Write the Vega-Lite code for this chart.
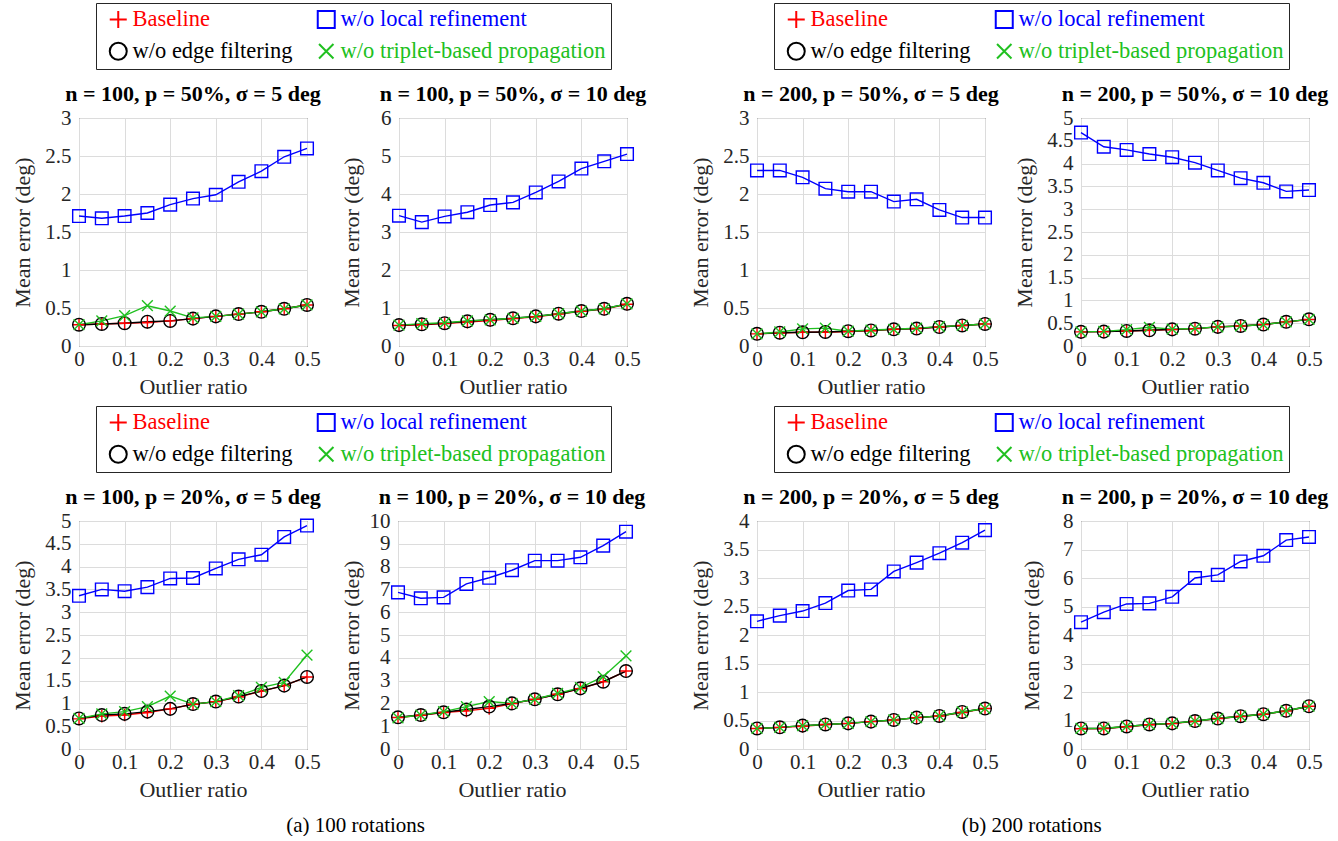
{
"$schema": "https://vega.github.io/schema/vega-lite/v6.json",
"padding": {"left": 10, "top": 2, "right": 0, "bottom": 0},
"background": "#ffffff",
"config": {
  "font": "Liberation Serif",
  "view": {"stroke": "#262626", "strokeWidth": 1},
  "axis": {"labelFont": "Liberation Serif", "labelFontSize": 21, "labelColor": "#262626", "titleFont": "Liberation Serif", "titleFontSize": 22, "titleFontWeight": "normal", "titleColor": "#262626", "grid": true, "gridColor": "#dcdcdc", "domain": false, "ticks": false, "tickSize": 0, "labelOverlap": false, "labelFlush": false},
  "axisX": {"labelPadding": 2, "titlePadding": 7},
  "axisY": {"labelPadding": 8, "titlePadding": 7},
  "title": {"font": "Liberation Serif", "fontSize": 22, "fontWeight": "bold", "color": "#000000", "offset": 1, "baseline": "alphabetic"},
  "legend": {"labelFont": "Liberation Serif", "labelFontSize": 22.5, "symbolSize": 289, "symbolStrokeWidth": 2, "labelOffset": 3, "columnPadding": 16, "rowPadding": 6, "padding": 5, "symbolOffset": 6, "strokeColor": "#262626", "fillColor": "#ffffff", "labelLimit": 400}
},
"datasets": {
"p1": [
{"ratio":0,"method":"Baseline","error":0.28},{"ratio":0.05,"method":"Baseline","error":0.29},{"ratio":0.1,"method":"Baseline","error":0.30},{"ratio":0.15,"method":"Baseline","error":0.31},{"ratio":0.2,"method":"Baseline","error":0.33},{"ratio":0.25,"method":"Baseline","error":0.36},{"ratio":0.3,"method":"Baseline","error":0.39},{"ratio":0.35,"method":"Baseline","error":0.42},{"ratio":0.4,"method":"Baseline","error":0.45},{"ratio":0.45,"method":"Baseline","error":0.49},{"ratio":0.5,"method":"Baseline","error":0.54},
{"ratio":0,"method":"w/o local refinement","error":1.71},{"ratio":0.05,"method":"w/o local refinement","error":1.68},{"ratio":0.1,"method":"w/o local refinement","error":1.71},{"ratio":0.15,"method":"w/o local refinement","error":1.75},{"ratio":0.2,"method":"w/o local refinement","error":1.86},{"ratio":0.25,"method":"w/o local refinement","error":1.94},{"ratio":0.3,"method":"w/o local refinement","error":1.99},{"ratio":0.35,"method":"w/o local refinement","error":2.16},{"ratio":0.4,"method":"w/o local refinement","error":2.30},{"ratio":0.45,"method":"w/o local refinement","error":2.49},{"ratio":0.5,"method":"w/o local refinement","error":2.60},
{"ratio":0,"method":"w/o edge filtering","error":0.28},{"ratio":0.05,"method":"w/o edge filtering","error":0.29},{"ratio":0.1,"method":"w/o edge filtering","error":0.30},{"ratio":0.15,"method":"w/o edge filtering","error":0.32},{"ratio":0.2,"method":"w/o edge filtering","error":0.33},{"ratio":0.25,"method":"w/o edge filtering","error":0.36},{"ratio":0.3,"method":"w/o edge filtering","error":0.39},{"ratio":0.35,"method":"w/o edge filtering","error":0.42},{"ratio":0.4,"method":"w/o edge filtering","error":0.45},{"ratio":0.45,"method":"w/o edge filtering","error":0.49},{"ratio":0.5,"method":"w/o edge filtering","error":0.54},
{"ratio":0,"method":"w/o triplet-based propagation","error":0.28},{"ratio":0.05,"method":"w/o triplet-based propagation","error":0.33},{"ratio":0.1,"method":"w/o triplet-based propagation","error":0.40},{"ratio":0.15,"method":"w/o triplet-based propagation","error":0.53},{"ratio":0.2,"method":"w/o triplet-based propagation","error":0.46},{"ratio":0.25,"method":"w/o triplet-based propagation","error":0.37},{"ratio":0.3,"method":"w/o triplet-based propagation","error":0.39},{"ratio":0.35,"method":"w/o triplet-based propagation","error":0.42},{"ratio":0.4,"method":"w/o triplet-based propagation","error":0.45},{"ratio":0.45,"method":"w/o triplet-based propagation","error":0.49},{"ratio":0.5,"method":"w/o triplet-based propagation","error":0.54}
],
"p2": [
{"ratio":0,"method":"Baseline","error":0.54},{"ratio":0.05,"method":"Baseline","error":0.56},{"ratio":0.1,"method":"Baseline","error":0.59},{"ratio":0.15,"method":"Baseline","error":0.63},{"ratio":0.2,"method":"Baseline","error":0.67},{"ratio":0.25,"method":"Baseline","error":0.72},{"ratio":0.3,"method":"Baseline","error":0.77},{"ratio":0.35,"method":"Baseline","error":0.84},{"ratio":0.4,"method":"Baseline","error":0.91},{"ratio":0.45,"method":"Baseline","error":0.97},{"ratio":0.5,"method":"Baseline","error":1.10},
{"ratio":0,"method":"w/o local refinement","error":3.43},{"ratio":0.05,"method":"w/o local refinement","error":3.26},{"ratio":0.1,"method":"w/o local refinement","error":3.41},{"ratio":0.15,"method":"w/o local refinement","error":3.52},{"ratio":0.2,"method":"w/o local refinement","error":3.71},{"ratio":0.25,"method":"w/o local refinement","error":3.78},{"ratio":0.3,"method":"w/o local refinement","error":4.04},{"ratio":0.35,"method":"w/o local refinement","error":4.33},{"ratio":0.4,"method":"w/o local refinement","error":4.67},{"ratio":0.45,"method":"w/o local refinement","error":4.86},{"ratio":0.5,"method":"w/o local refinement","error":5.05},
{"ratio":0,"method":"w/o edge filtering","error":0.55},{"ratio":0.05,"method":"w/o edge filtering","error":0.57},{"ratio":0.1,"method":"w/o edge filtering","error":0.60},{"ratio":0.15,"method":"w/o edge filtering","error":0.65},{"ratio":0.2,"method":"w/o edge filtering","error":0.69},{"ratio":0.25,"method":"w/o edge filtering","error":0.73},{"ratio":0.3,"method":"w/o edge filtering","error":0.78},{"ratio":0.35,"method":"w/o edge filtering","error":0.85},{"ratio":0.4,"method":"w/o edge filtering","error":0.92},{"ratio":0.45,"method":"w/o edge filtering","error":0.98},{"ratio":0.5,"method":"w/o edge filtering","error":1.11},
{"ratio":0,"method":"w/o triplet-based propagation","error":0.55},{"ratio":0.05,"method":"w/o triplet-based propagation","error":0.59},{"ratio":0.1,"method":"w/o triplet-based propagation","error":0.61},{"ratio":0.15,"method":"w/o triplet-based propagation","error":0.66},{"ratio":0.2,"method":"w/o triplet-based propagation","error":0.69},{"ratio":0.25,"method":"w/o triplet-based propagation","error":0.73},{"ratio":0.3,"method":"w/o triplet-based propagation","error":0.78},{"ratio":0.35,"method":"w/o triplet-based propagation","error":0.85},{"ratio":0.4,"method":"w/o triplet-based propagation","error":0.92},{"ratio":0.45,"method":"w/o triplet-based propagation","error":0.98},{"ratio":0.5,"method":"w/o triplet-based propagation","error":1.11}
],
"p3": [
{"ratio":0,"method":"Baseline","error":0.16},{"ratio":0.05,"method":"Baseline","error":0.17},{"ratio":0.1,"method":"Baseline","error":0.18},{"ratio":0.15,"method":"Baseline","error":0.18},{"ratio":0.2,"method":"Baseline","error":0.19},{"ratio":0.25,"method":"Baseline","error":0.20},{"ratio":0.3,"method":"Baseline","error":0.22},{"ratio":0.35,"method":"Baseline","error":0.23},{"ratio":0.4,"method":"Baseline","error":0.25},{"ratio":0.45,"method":"Baseline","error":0.27},{"ratio":0.5,"method":"Baseline","error":0.29},
{"ratio":0,"method":"w/o local refinement","error":2.31},{"ratio":0.05,"method":"w/o local refinement","error":2.31},{"ratio":0.1,"method":"w/o local refinement","error":2.22},{"ratio":0.15,"method":"w/o local refinement","error":2.07},{"ratio":0.2,"method":"w/o local refinement","error":2.03},{"ratio":0.25,"method":"w/o local refinement","error":2.03},{"ratio":0.3,"method":"w/o local refinement","error":1.90},{"ratio":0.35,"method":"w/o local refinement","error":1.93},{"ratio":0.4,"method":"w/o local refinement","error":1.79},{"ratio":0.45,"method":"w/o local refinement","error":1.69},{"ratio":0.5,"method":"w/o local refinement","error":1.69},
{"ratio":0,"method":"w/o edge filtering","error":0.16},{"ratio":0.05,"method":"w/o edge filtering","error":0.175},{"ratio":0.1,"method":"w/o edge filtering","error":0.18},{"ratio":0.15,"method":"w/o edge filtering","error":0.185},{"ratio":0.2,"method":"w/o edge filtering","error":0.195},{"ratio":0.25,"method":"w/o edge filtering","error":0.205},{"ratio":0.3,"method":"w/o edge filtering","error":0.22},{"ratio":0.35,"method":"w/o edge filtering","error":0.23},{"ratio":0.4,"method":"w/o edge filtering","error":0.25},{"ratio":0.45,"method":"w/o edge filtering","error":0.27},{"ratio":0.5,"method":"w/o edge filtering","error":0.29},
{"ratio":0,"method":"w/o triplet-based propagation","error":0.16},{"ratio":0.05,"method":"w/o triplet-based propagation","error":0.185},{"ratio":0.1,"method":"w/o triplet-based propagation","error":0.225},{"ratio":0.15,"method":"w/o triplet-based propagation","error":0.235},{"ratio":0.2,"method":"w/o triplet-based propagation","error":0.195},{"ratio":0.25,"method":"w/o triplet-based propagation","error":0.21},{"ratio":0.3,"method":"w/o triplet-based propagation","error":0.22},{"ratio":0.35,"method":"w/o triplet-based propagation","error":0.235},{"ratio":0.4,"method":"w/o triplet-based propagation","error":0.255},{"ratio":0.45,"method":"w/o triplet-based propagation","error":0.27},{"ratio":0.5,"method":"w/o triplet-based propagation","error":0.29}
],
"p4": [
{"ratio":0,"method":"Baseline","error":0.31},{"ratio":0.05,"method":"Baseline","error":0.315},{"ratio":0.1,"method":"Baseline","error":0.33},{"ratio":0.15,"method":"Baseline","error":0.345},{"ratio":0.2,"method":"Baseline","error":0.36},{"ratio":0.25,"method":"Baseline","error":0.38},{"ratio":0.3,"method":"Baseline","error":0.42},{"ratio":0.35,"method":"Baseline","error":0.44},{"ratio":0.4,"method":"Baseline","error":0.47},{"ratio":0.45,"method":"Baseline","error":0.53},{"ratio":0.5,"method":"Baseline","error":0.58},
{"ratio":0,"method":"w/o local refinement","error":4.68},{"ratio":0.05,"method":"w/o local refinement","error":4.37},{"ratio":0.1,"method":"w/o local refinement","error":4.30},{"ratio":0.15,"method":"w/o local refinement","error":4.21},{"ratio":0.2,"method":"w/o local refinement","error":4.14},{"ratio":0.25,"method":"w/o local refinement","error":4.02},{"ratio":0.3,"method":"w/o local refinement","error":3.85},{"ratio":0.35,"method":"w/o local refinement","error":3.68},{"ratio":0.4,"method":"w/o local refinement","error":3.58},{"ratio":0.45,"method":"w/o local refinement","error":3.39},{"ratio":0.5,"method":"w/o local refinement","error":3.42},
{"ratio":0,"method":"w/o edge filtering","error":0.31},{"ratio":0.05,"method":"w/o edge filtering","error":0.315},{"ratio":0.1,"method":"w/o edge filtering","error":0.33},{"ratio":0.15,"method":"w/o edge filtering","error":0.345},{"ratio":0.2,"method":"w/o edge filtering","error":0.365},{"ratio":0.25,"method":"w/o edge filtering","error":0.38},{"ratio":0.3,"method":"w/o edge filtering","error":0.42},{"ratio":0.35,"method":"w/o edge filtering","error":0.44},{"ratio":0.4,"method":"w/o edge filtering","error":0.47},{"ratio":0.45,"method":"w/o edge filtering","error":0.53},{"ratio":0.5,"method":"w/o edge filtering","error":0.585},
{"ratio":0,"method":"w/o triplet-based propagation","error":0.31},{"ratio":0.05,"method":"w/o triplet-based propagation","error":0.32},{"ratio":0.1,"method":"w/o triplet-based propagation","error":0.36},{"ratio":0.15,"method":"w/o triplet-based propagation","error":0.41},{"ratio":0.2,"method":"w/o triplet-based propagation","error":0.37},{"ratio":0.25,"method":"w/o triplet-based propagation","error":0.385},{"ratio":0.3,"method":"w/o triplet-based propagation","error":0.42},{"ratio":0.35,"method":"w/o triplet-based propagation","error":0.44},{"ratio":0.4,"method":"w/o triplet-based propagation","error":0.47},{"ratio":0.45,"method":"w/o triplet-based propagation","error":0.53},{"ratio":0.5,"method":"w/o triplet-based propagation","error":0.585}
],
"p5": [
{"ratio":0,"method":"Baseline","error":0.66},{"ratio":0.05,"method":"Baseline","error":0.72},{"ratio":0.1,"method":"Baseline","error":0.745},{"ratio":0.15,"method":"Baseline","error":0.80},{"ratio":0.2,"method":"Baseline","error":0.88},{"ratio":0.25,"method":"Baseline","error":0.98},{"ratio":0.3,"method":"Baseline","error":1.04},{"ratio":0.35,"method":"Baseline","error":1.14},{"ratio":0.4,"method":"Baseline","error":1.27},{"ratio":0.45,"method":"Baseline","error":1.39},{"ratio":0.5,"method":"Baseline","error":1.58},
{"ratio":0,"method":"w/o local refinement","error":3.36},{"ratio":0.05,"method":"w/o local refinement","error":3.50},{"ratio":0.1,"method":"w/o local refinement","error":3.46},{"ratio":0.15,"method":"w/o local refinement","error":3.55},{"ratio":0.2,"method":"w/o local refinement","error":3.74},{"ratio":0.25,"method":"w/o local refinement","error":3.75},{"ratio":0.3,"method":"w/o local refinement","error":3.96},{"ratio":0.35,"method":"w/o local refinement","error":4.16},{"ratio":0.4,"method":"w/o local refinement","error":4.26},{"ratio":0.45,"method":"w/o local refinement","error":4.65},{"ratio":0.5,"method":"w/o local refinement","error":4.90},
{"ratio":0,"method":"w/o edge filtering","error":0.67},{"ratio":0.05,"method":"w/o edge filtering","error":0.745},{"ratio":0.1,"method":"w/o edge filtering","error":0.77},{"ratio":0.15,"method":"w/o edge filtering","error":0.82},{"ratio":0.2,"method":"w/o edge filtering","error":0.88},{"ratio":0.25,"method":"w/o edge filtering","error":0.985},{"ratio":0.3,"method":"w/o edge filtering","error":1.04},{"ratio":0.35,"method":"w/o edge filtering","error":1.15},{"ratio":0.4,"method":"w/o edge filtering","error":1.27},{"ratio":0.45,"method":"w/o edge filtering","error":1.39},{"ratio":0.5,"method":"w/o edge filtering","error":1.58},
{"ratio":0,"method":"w/o triplet-based propagation","error":0.67},{"ratio":0.05,"method":"w/o triplet-based propagation","error":0.77},{"ratio":0.1,"method":"w/o triplet-based propagation","error":0.82},{"ratio":0.15,"method":"w/o triplet-based propagation","error":0.93},{"ratio":0.2,"method":"w/o triplet-based propagation","error":1.16},{"ratio":0.25,"method":"w/o triplet-based propagation","error":0.985},{"ratio":0.3,"method":"w/o triplet-based propagation","error":1.04},{"ratio":0.35,"method":"w/o triplet-based propagation","error":1.17},{"ratio":0.4,"method":"w/o triplet-based propagation","error":1.35},{"ratio":0.45,"method":"w/o triplet-based propagation","error":1.46},{"ratio":0.5,"method":"w/o triplet-based propagation","error":2.06}
],
"p6": [
{"ratio":0,"method":"Baseline","error":1.38},{"ratio":0.05,"method":"Baseline","error":1.48},{"ratio":0.1,"method":"Baseline","error":1.60},{"ratio":0.15,"method":"Baseline","error":1.67},{"ratio":0.2,"method":"Baseline","error":1.78},{"ratio":0.25,"method":"Baseline","error":1.99},{"ratio":0.3,"method":"Baseline","error":2.18},{"ratio":0.35,"method":"Baseline","error":2.40},{"ratio":0.4,"method":"Baseline","error":2.65},{"ratio":0.45,"method":"Baseline","error":2.95},{"ratio":0.5,"method":"Baseline","error":3.42},
{"ratio":0,"method":"w/o local refinement","error":6.87},{"ratio":0.05,"method":"w/o local refinement","error":6.61},{"ratio":0.1,"method":"w/o local refinement","error":6.65},{"ratio":0.15,"method":"w/o local refinement","error":7.24},{"ratio":0.2,"method":"w/o local refinement","error":7.51},{"ratio":0.25,"method":"w/o local refinement","error":7.84},{"ratio":0.3,"method":"w/o local refinement","error":8.26},{"ratio":0.35,"method":"w/o local refinement","error":8.26},{"ratio":0.4,"method":"w/o local refinement","error":8.41},{"ratio":0.45,"method":"w/o local refinement","error":8.92},{"ratio":0.5,"method":"w/o local refinement","error":9.53},
{"ratio":0,"method":"w/o edge filtering","error":1.39},{"ratio":0.05,"method":"w/o edge filtering","error":1.49},{"ratio":0.1,"method":"w/o edge filtering","error":1.61},{"ratio":0.15,"method":"w/o edge filtering","error":1.73},{"ratio":0.2,"method":"w/o edge filtering","error":1.86},{"ratio":0.25,"method":"w/o edge filtering","error":2.00},{"ratio":0.3,"method":"w/o edge filtering","error":2.18},{"ratio":0.35,"method":"w/o edge filtering","error":2.40},{"ratio":0.4,"method":"w/o edge filtering","error":2.66},{"ratio":0.45,"method":"w/o edge filtering","error":2.95},{"ratio":0.5,"method":"w/o edge filtering","error":3.42},
{"ratio":0,"method":"w/o triplet-based propagation","error":1.37},{"ratio":0.05,"method":"w/o triplet-based propagation","error":1.49},{"ratio":0.1,"method":"w/o triplet-based propagation","error":1.64},{"ratio":0.15,"method":"w/o triplet-based propagation","error":1.86},{"ratio":0.2,"method":"w/o triplet-based propagation","error":2.08},{"ratio":0.25,"method":"w/o triplet-based propagation","error":2.00},{"ratio":0.3,"method":"w/o triplet-based propagation","error":2.18},{"ratio":0.35,"method":"w/o triplet-based propagation","error":2.44},{"ratio":0.4,"method":"w/o triplet-based propagation","error":2.69},{"ratio":0.45,"method":"w/o triplet-based propagation","error":3.17},{"ratio":0.5,"method":"w/o triplet-based propagation","error":4.08}
],
"p7": [
{"ratio":0,"method":"Baseline","error":0.36},{"ratio":0.05,"method":"Baseline","error":0.38},{"ratio":0.1,"method":"Baseline","error":0.40},{"ratio":0.15,"method":"Baseline","error":0.43},{"ratio":0.2,"method":"Baseline","error":0.45},{"ratio":0.25,"method":"Baseline","error":0.48},{"ratio":0.3,"method":"Baseline","error":0.51},{"ratio":0.35,"method":"Baseline","error":0.55},{"ratio":0.4,"method":"Baseline","error":0.58},{"ratio":0.45,"method":"Baseline","error":0.64},{"ratio":0.5,"method":"Baseline","error":0.71},
{"ratio":0,"method":"w/o local refinement","error":2.24},{"ratio":0.05,"method":"w/o local refinement","error":2.34},{"ratio":0.1,"method":"w/o local refinement","error":2.42},{"ratio":0.15,"method":"w/o local refinement","error":2.56},{"ratio":0.2,"method":"w/o local refinement","error":2.78},{"ratio":0.25,"method":"w/o local refinement","error":2.80},{"ratio":0.3,"method":"w/o local refinement","error":3.115},{"ratio":0.35,"method":"w/o local refinement","error":3.27},{"ratio":0.4,"method":"w/o local refinement","error":3.435},{"ratio":0.45,"method":"w/o local refinement","error":3.62},{"ratio":0.5,"method":"w/o local refinement","error":3.84},
{"ratio":0,"method":"w/o edge filtering","error":0.36},{"ratio":0.05,"method":"w/o edge filtering","error":0.38},{"ratio":0.1,"method":"w/o edge filtering","error":0.41},{"ratio":0.15,"method":"w/o edge filtering","error":0.43},{"ratio":0.2,"method":"w/o edge filtering","error":0.45},{"ratio":0.25,"method":"w/o edge filtering","error":0.48},{"ratio":0.3,"method":"w/o edge filtering","error":0.51},{"ratio":0.35,"method":"w/o edge filtering","error":0.55},{"ratio":0.4,"method":"w/o edge filtering","error":0.58},{"ratio":0.45,"method":"w/o edge filtering","error":0.65},{"ratio":0.5,"method":"w/o edge filtering","error":0.71},
{"ratio":0,"method":"w/o triplet-based propagation","error":0.36},{"ratio":0.05,"method":"w/o triplet-based propagation","error":0.38},{"ratio":0.1,"method":"w/o triplet-based propagation","error":0.41},{"ratio":0.15,"method":"w/o triplet-based propagation","error":0.43},{"ratio":0.2,"method":"w/o triplet-based propagation","error":0.45},{"ratio":0.25,"method":"w/o triplet-based propagation","error":0.48},{"ratio":0.3,"method":"w/o triplet-based propagation","error":0.51},{"ratio":0.35,"method":"w/o triplet-based propagation","error":0.55},{"ratio":0.4,"method":"w/o triplet-based propagation","error":0.58},{"ratio":0.45,"method":"w/o triplet-based propagation","error":0.65},{"ratio":0.5,"method":"w/o triplet-based propagation","error":0.71}
],
"p8": [
{"ratio":0,"method":"Baseline","error":0.71},{"ratio":0.05,"method":"Baseline","error":0.72},{"ratio":0.1,"method":"Baseline","error":0.78},{"ratio":0.15,"method":"Baseline","error":0.85},{"ratio":0.2,"method":"Baseline","error":0.89},{"ratio":0.25,"method":"Baseline","error":0.97},{"ratio":0.3,"method":"Baseline","error":1.07},{"ratio":0.35,"method":"Baseline","error":1.14},{"ratio":0.4,"method":"Baseline","error":1.22},{"ratio":0.45,"method":"Baseline","error":1.33},{"ratio":0.5,"method":"Baseline","error":1.50},
{"ratio":0,"method":"w/o local refinement","error":4.45},{"ratio":0.05,"method":"w/o local refinement","error":4.80},{"ratio":0.1,"method":"w/o local refinement","error":5.09},{"ratio":0.15,"method":"w/o local refinement","error":5.11},{"ratio":0.2,"method":"w/o local refinement","error":5.34},{"ratio":0.25,"method":"w/o local refinement","error":6.00},{"ratio":0.3,"method":"w/o local refinement","error":6.11},{"ratio":0.35,"method":"w/o local refinement","error":6.58},{"ratio":0.4,"method":"w/o local refinement","error":6.78},{"ratio":0.45,"method":"w/o local refinement","error":7.33},{"ratio":0.5,"method":"w/o local refinement","error":7.44},
{"ratio":0,"method":"w/o edge filtering","error":0.72},{"ratio":0.05,"method":"w/o edge filtering","error":0.72},{"ratio":0.1,"method":"w/o edge filtering","error":0.79},{"ratio":0.15,"method":"w/o edge filtering","error":0.86},{"ratio":0.2,"method":"w/o edge filtering","error":0.90},{"ratio":0.25,"method":"w/o edge filtering","error":0.98},{"ratio":0.3,"method":"w/o edge filtering","error":1.07},{"ratio":0.35,"method":"w/o edge filtering","error":1.15},{"ratio":0.4,"method":"w/o edge filtering","error":1.22},{"ratio":0.45,"method":"w/o edge filtering","error":1.34},{"ratio":0.5,"method":"w/o edge filtering","error":1.50},
{"ratio":0,"method":"w/o triplet-based propagation","error":0.72},{"ratio":0.05,"method":"w/o triplet-based propagation","error":0.73},{"ratio":0.1,"method":"w/o triplet-based propagation","error":0.79},{"ratio":0.15,"method":"w/o triplet-based propagation","error":0.86},{"ratio":0.2,"method":"w/o triplet-based propagation","error":0.90},{"ratio":0.25,"method":"w/o triplet-based propagation","error":0.98},{"ratio":0.3,"method":"w/o triplet-based propagation","error":1.07},{"ratio":0.35,"method":"w/o triplet-based propagation","error":1.15},{"ratio":0.4,"method":"w/o triplet-based propagation","error":1.22},{"ratio":0.45,"method":"w/o triplet-based propagation","error":1.34},{"ratio":0.5,"method":"w/o triplet-based propagation","error":1.50}
]
},
"resolve": {"legend": {"color": "independent", "shape": "independent"}},
"spacing": 41,
"hconcat": [
{
 "spacing": 7,
 "resolve": {"legend": {"color": "independent", "shape": "independent"}},
 "title": {"text": "(a) 100 rotations", "orient": "bottom", "anchor": "middle", "fontSize": 21, "fontWeight": "normal", "color": "#000000", "offset": 14, "dx": 27},
 "vconcat": [
  {"spacing": 17, "hconcat": [
   {"data": {"name": "p1"}, "width": 228, "height": 228, "title": "n = 100, p = 50%, σ = 5 deg",
    "encoding": {
     "x": {"field": "ratio", "type": "quantitative", "scale": {"domain": [0, 0.5], "nice": false, "zero": false}, "axis": {"values": [0, 0.1, 0.2, 0.3, 0.4, 0.5], "format": ".1~f", "title": "Outlier ratio"}},
     "y": {"field": "error", "type": "quantitative", "scale": {"domain": [0, 3], "nice": false}, "axis": {"values": [0, 0.5, 1, 1.5, 2, 2.5, 3], "format": ".1~f", "title": "Mean error (deg)", "minExtent": 38, "maxExtent": 38}}
    },
    "layer": [
     {"mark": {"type": "line", "strokeWidth": 1.4}, "encoding": {"stroke": {"field": "method", "type": "nominal", "scale": {"domain": ["Baseline", "w/o edge filtering", "w/o local refinement", "w/o triplet-based propagation"], "range": ["#ff0000", "#000000", "#0000ff", "#20c020"]}, "legend": null}}},
     {"mark": {"type": "point", "filled": false, "size": 160, "strokeWidth": 1.4, "opacity": 1},
      "encoding": {
       "color": {"field": "method", "type": "nominal", "scale": {"domain": ["Baseline", "w/o edge filtering", "w/o local refinement", "w/o triplet-based propagation"], "range": ["#ff0000", "#000000", "#0000ff", "#20c020"]},
        "legend": {"orient": "none", "legendX": 17, "legendY": -115, "columns": 2, "title": null, "labelColor": {"expr": "datum.value === 'Baseline' ? '#ff0000' : datum.value === 'w/o local refinement' ? '#0000ff' : datum.value === 'w/o edge filtering' ? '#000000' : '#20c020'"}}},
       "shape": {"field": "method", "type": "nominal", "scale": {"domain": ["Baseline", "w/o edge filtering", "w/o local refinement", "w/o triplet-based propagation"], "range": ["M-1,0H1M0,-1V1", "circle", "square", "M-0.85,-0.85L0.85,0.85M0.85,-0.85L-0.85,0.85"]},
        "legend": {"orient": "none", "legendX": 17, "legendY": -115, "columns": 2, "title": null, "labelColor": {"expr": "datum.value === 'Baseline' ? '#ff0000' : datum.value === 'w/o local refinement' ? '#0000ff' : datum.value === 'w/o edge filtering' ? '#000000' : '#20c020'"}}}
      }}
    ]},
   {"data": {"name": "p2"}, "width": 228, "height": 228, "title": "n = 100, p = 50%, σ = 10 deg",
    "encoding": {
     "x": {"field": "ratio", "type": "quantitative", "scale": {"domain": [0, 0.5], "nice": false, "zero": false}, "axis": {"values": [0, 0.1, 0.2, 0.3, 0.4, 0.5], "format": ".1~f", "title": "Outlier ratio"}},
     "y": {"field": "error", "type": "quantitative", "scale": {"domain": [0, 6], "nice": false}, "axis": {"values": [0, 1, 2, 3, 4, 5, 6], "format": ".1~f", "title": "Mean error (deg)", "minExtent": 29, "maxExtent": 29}}
    },
    "layer": [
     {"mark": {"type": "line", "strokeWidth": 1.4}, "encoding": {"stroke": {"field": "method", "type": "nominal", "scale": {"domain": ["Baseline", "w/o edge filtering", "w/o local refinement", "w/o triplet-based propagation"], "range": ["#ff0000", "#000000", "#0000ff", "#20c020"]}, "legend": null}}},
     {"mark": {"type": "point", "filled": false, "size": 160, "strokeWidth": 1.4, "opacity": 1},
      "encoding": {
       "color": {"field": "method", "type": "nominal", "scale": {"domain": ["Baseline", "w/o edge filtering", "w/o local refinement", "w/o triplet-based propagation"], "range": ["#ff0000", "#000000", "#0000ff", "#20c020"]},
        "legend": {"orient": "none", "legendX": 17, "legendY": -115, "columns": 2, "title": null, "labelColor": {"expr": "datum.value === 'Baseline' ? '#ff0000' : datum.value === 'w/o local refinement' ? '#0000ff' : datum.value === 'w/o edge filtering' ? '#000000' : '#20c020'"}}},
       "shape": {"field": "method", "type": "nominal", "scale": {"domain": ["Baseline", "w/o edge filtering", "w/o local refinement", "w/o triplet-based propagation"], "range": ["M-1,0H1M0,-1V1", "circle", "square", "M-0.85,-0.85L0.85,0.85M0.85,-0.85L-0.85,0.85"]},
        "legend": {"orient": "none", "legendX": 17, "legendY": -115, "columns": 2, "title": null, "labelColor": {"expr": "datum.value === 'Baseline' ? '#ff0000' : datum.value === 'w/o local refinement' ? '#0000ff' : datum.value === 'w/o edge filtering' ? '#000000' : '#20c020'"}}}
      }}
    ]}
  ]},
  {"spacing": 17, "hconcat": [
   {"data": {"name": "p5"}, "width": 228, "height": 228, "title": "n = 100, p = 20%, σ = 5 deg",
    "encoding": {
     "x": {"field": "ratio", "type": "quantitative", "scale": {"domain": [0, 0.5], "nice": false, "zero": false}, "axis": {"values": [0, 0.1, 0.2, 0.3, 0.4, 0.5], "format": ".1~f", "title": "Outlier ratio"}},
     "y": {"field": "error", "type": "quantitative", "scale": {"domain": [0, 5], "nice": false}, "axis": {"values": [0, 0.5, 1, 1.5, 2, 2.5, 3, 3.5, 4, 4.5, 5], "format": ".1~f", "title": "Mean error (deg)", "minExtent": 38, "maxExtent": 38}}
    },
    "layer": [
     {"mark": {"type": "line", "strokeWidth": 1.4}, "encoding": {"stroke": {"field": "method", "type": "nominal", "scale": {"domain": ["Baseline", "w/o edge filtering", "w/o local refinement", "w/o triplet-based propagation"], "range": ["#ff0000", "#000000", "#0000ff", "#20c020"]}, "legend": null}}},
     {"mark": {"type": "point", "filled": false, "size": 160, "strokeWidth": 1.4, "opacity": 1},
      "encoding": {
       "color": {"field": "method", "type": "nominal", "scale": {"domain": ["Baseline", "w/o edge filtering", "w/o local refinement", "w/o triplet-based propagation"], "range": ["#ff0000", "#000000", "#0000ff", "#20c020"]},
        "legend": {"orient": "none", "legendX": 17, "legendY": -115, "columns": 2, "title": null, "labelColor": {"expr": "datum.value === 'Baseline' ? '#ff0000' : datum.value === 'w/o local refinement' ? '#0000ff' : datum.value === 'w/o edge filtering' ? '#000000' : '#20c020'"}}},
       "shape": {"field": "method", "type": "nominal", "scale": {"domain": ["Baseline", "w/o edge filtering", "w/o local refinement", "w/o triplet-based propagation"], "range": ["M-1,0H1M0,-1V1", "circle", "square", "M-0.85,-0.85L0.85,0.85M0.85,-0.85L-0.85,0.85"]},
        "legend": {"orient": "none", "legendX": 17, "legendY": -115, "columns": 2, "title": null, "labelColor": {"expr": "datum.value === 'Baseline' ? '#ff0000' : datum.value === 'w/o local refinement' ? '#0000ff' : datum.value === 'w/o edge filtering' ? '#000000' : '#20c020'"}}}
      }}
    ]},
   {"data": {"name": "p6"}, "width": 228, "height": 228, "title": "n = 100, p = 20%, σ = 10 deg",
    "encoding": {
     "x": {"field": "ratio", "type": "quantitative", "scale": {"domain": [0, 0.5], "nice": false, "zero": false}, "axis": {"values": [0, 0.1, 0.2, 0.3, 0.4, 0.5], "format": ".1~f", "title": "Outlier ratio"}},
     "y": {"field": "error", "type": "quantitative", "scale": {"domain": [0, 10], "nice": false}, "axis": {"values": [0, 1, 2, 3, 4, 5, 6, 7, 8, 9, 10], "format": ".1~f", "title": "Mean error (deg)", "minExtent": 28, "maxExtent": 28}}
    },
    "layer": [
     {"mark": {"type": "line", "strokeWidth": 1.4}, "encoding": {"stroke": {"field": "method", "type": "nominal", "scale": {"domain": ["Baseline", "w/o edge filtering", "w/o local refinement", "w/o triplet-based propagation"], "range": ["#ff0000", "#000000", "#0000ff", "#20c020"]}, "legend": null}}},
     {"mark": {"type": "point", "filled": false, "size": 160, "strokeWidth": 1.4, "opacity": 1},
      "encoding": {
       "color": {"field": "method", "type": "nominal", "scale": {"domain": ["Baseline", "w/o edge filtering", "w/o local refinement", "w/o triplet-based propagation"], "range": ["#ff0000", "#000000", "#0000ff", "#20c020"]},
        "legend": {"orient": "none", "legendX": 17, "legendY": -115, "columns": 2, "title": null, "labelColor": {"expr": "datum.value === 'Baseline' ? '#ff0000' : datum.value === 'w/o local refinement' ? '#0000ff' : datum.value === 'w/o edge filtering' ? '#000000' : '#20c020'"}}},
       "shape": {"field": "method", "type": "nominal", "scale": {"domain": ["Baseline", "w/o edge filtering", "w/o local refinement", "w/o triplet-based propagation"], "range": ["M-1,0H1M0,-1V1", "circle", "square", "M-0.85,-0.85L0.85,0.85M0.85,-0.85L-0.85,0.85"]},
        "legend": {"orient": "none", "legendX": 17, "legendY": -115, "columns": 2, "title": null, "labelColor": {"expr": "datum.value === 'Baseline' ? '#ff0000' : datum.value === 'w/o local refinement' ? '#0000ff' : datum.value === 'w/o edge filtering' ? '#000000' : '#20c020'"}}}
      }}
    ]}
  ]}
 ]
},
{
 "spacing": 7,
 "resolve": {"legend": {"color": "independent", "shape": "independent"}},
 "title": {"text": "(b) 200 rotations", "orient": "bottom", "anchor": "middle", "fontSize": 21, "fontWeight": "normal", "color": "#000000", "offset": 14, "dx": 23},
 "vconcat": [
  {"spacing": 12, "hconcat": [
   {"data": {"name": "p3"}, "width": 228, "height": 228, "title": "n = 200, p = 50%, σ = 5 deg",
    "encoding": {
     "x": {"field": "ratio", "type": "quantitative", "scale": {"domain": [0, 0.5], "nice": false, "zero": false}, "axis": {"values": [0, 0.1, 0.2, 0.3, 0.4, 0.5], "format": ".1~f", "title": "Outlier ratio"}},
     "y": {"field": "error", "type": "quantitative", "scale": {"domain": [0, 3], "nice": false}, "axis": {"values": [0, 0.5, 1, 1.5, 2, 2.5, 3], "format": ".1~f", "title": "Mean error (deg)", "minExtent": 38, "maxExtent": 38}}
    },
    "layer": [
     {"mark": {"type": "line", "strokeWidth": 1.4}, "encoding": {"stroke": {"field": "method", "type": "nominal", "scale": {"domain": ["Baseline", "w/o edge filtering", "w/o local refinement", "w/o triplet-based propagation"], "range": ["#ff0000", "#000000", "#0000ff", "#20c020"]}, "legend": null}}},
     {"mark": {"type": "point", "filled": false, "size": 160, "strokeWidth": 1.4, "opacity": 1},
      "encoding": {
       "color": {"field": "method", "type": "nominal", "scale": {"domain": ["Baseline", "w/o edge filtering", "w/o local refinement", "w/o triplet-based propagation"], "range": ["#ff0000", "#000000", "#0000ff", "#20c020"]},
        "legend": {"orient": "none", "legendX": 17, "legendY": -115, "columns": 2, "title": null, "labelColor": {"expr": "datum.value === 'Baseline' ? '#ff0000' : datum.value === 'w/o local refinement' ? '#0000ff' : datum.value === 'w/o edge filtering' ? '#000000' : '#20c020'"}}},
       "shape": {"field": "method", "type": "nominal", "scale": {"domain": ["Baseline", "w/o edge filtering", "w/o local refinement", "w/o triplet-based propagation"], "range": ["M-1,0H1M0,-1V1", "circle", "square", "M-0.85,-0.85L0.85,0.85M0.85,-0.85L-0.85,0.85"]},
        "legend": {"orient": "none", "legendX": 17, "legendY": -115, "columns": 2, "title": null, "labelColor": {"expr": "datum.value === 'Baseline' ? '#ff0000' : datum.value === 'w/o local refinement' ? '#0000ff' : datum.value === 'w/o edge filtering' ? '#000000' : '#20c020'"}}}
      }}
    ]},
   {"data": {"name": "p4"}, "width": 228, "height": 228, "title": "n = 200, p = 50%, σ = 10 deg",
    "encoding": {
     "x": {"field": "ratio", "type": "quantitative", "scale": {"domain": [0, 0.5], "nice": false, "zero": false}, "axis": {"values": [0, 0.1, 0.2, 0.3, 0.4, 0.5], "format": ".1~f", "title": "Outlier ratio"}},
     "y": {"field": "error", "type": "quantitative", "scale": {"domain": [0, 5], "nice": false}, "axis": {"values": [0, 0.5, 1, 1.5, 2, 2.5, 3, 3.5, 4, 4.5, 5], "format": ".1~f", "title": "Mean error (deg)", "minExtent": 38, "maxExtent": 38}}
    },
    "layer": [
     {"mark": {"type": "line", "strokeWidth": 1.4}, "encoding": {"stroke": {"field": "method", "type": "nominal", "scale": {"domain": ["Baseline", "w/o edge filtering", "w/o local refinement", "w/o triplet-based propagation"], "range": ["#ff0000", "#000000", "#0000ff", "#20c020"]}, "legend": null}}},
     {"mark": {"type": "point", "filled": false, "size": 160, "strokeWidth": 1.4, "opacity": 1},
      "encoding": {
       "color": {"field": "method", "type": "nominal", "scale": {"domain": ["Baseline", "w/o edge filtering", "w/o local refinement", "w/o triplet-based propagation"], "range": ["#ff0000", "#000000", "#0000ff", "#20c020"]},
        "legend": {"orient": "none", "legendX": 17, "legendY": -115, "columns": 2, "title": null, "labelColor": {"expr": "datum.value === 'Baseline' ? '#ff0000' : datum.value === 'w/o local refinement' ? '#0000ff' : datum.value === 'w/o edge filtering' ? '#000000' : '#20c020'"}}},
       "shape": {"field": "method", "type": "nominal", "scale": {"domain": ["Baseline", "w/o edge filtering", "w/o local refinement", "w/o triplet-based propagation"], "range": ["M-1,0H1M0,-1V1", "circle", "square", "M-0.85,-0.85L0.85,0.85M0.85,-0.85L-0.85,0.85"]},
        "legend": {"orient": "none", "legendX": 17, "legendY": -115, "columns": 2, "title": null, "labelColor": {"expr": "datum.value === 'Baseline' ? '#ff0000' : datum.value === 'w/o local refinement' ? '#0000ff' : datum.value === 'w/o edge filtering' ? '#000000' : '#20c020'"}}}
      }}
    ]}
  ]},
  {"spacing": 19, "hconcat": [
   {"data": {"name": "p7"}, "width": 228, "height": 228, "title": "n = 200, p = 20%, σ = 5 deg",
    "encoding": {
     "x": {"field": "ratio", "type": "quantitative", "scale": {"domain": [0, 0.5], "nice": false, "zero": false}, "axis": {"values": [0, 0.1, 0.2, 0.3, 0.4, 0.5], "format": ".1~f", "title": "Outlier ratio"}},
     "y": {"field": "error", "type": "quantitative", "scale": {"domain": [0, 4], "nice": false}, "axis": {"values": [0, 0.5, 1, 1.5, 2, 2.5, 3, 3.5, 4], "format": ".1~f", "title": "Mean error (deg)", "minExtent": 38, "maxExtent": 38}}
    },
    "layer": [
     {"mark": {"type": "line", "strokeWidth": 1.4}, "encoding": {"stroke": {"field": "method", "type": "nominal", "scale": {"domain": ["Baseline", "w/o edge filtering", "w/o local refinement", "w/o triplet-based propagation"], "range": ["#ff0000", "#000000", "#0000ff", "#20c020"]}, "legend": null}}},
     {"mark": {"type": "point", "filled": false, "size": 160, "strokeWidth": 1.4, "opacity": 1},
      "encoding": {
       "color": {"field": "method", "type": "nominal", "scale": {"domain": ["Baseline", "w/o edge filtering", "w/o local refinement", "w/o triplet-based propagation"], "range": ["#ff0000", "#000000", "#0000ff", "#20c020"]},
        "legend": {"orient": "none", "legendX": 17, "legendY": -115, "columns": 2, "title": null, "labelColor": {"expr": "datum.value === 'Baseline' ? '#ff0000' : datum.value === 'w/o local refinement' ? '#0000ff' : datum.value === 'w/o edge filtering' ? '#000000' : '#20c020'"}}},
       "shape": {"field": "method", "type": "nominal", "scale": {"domain": ["Baseline", "w/o edge filtering", "w/o local refinement", "w/o triplet-based propagation"], "range": ["M-1,0H1M0,-1V1", "circle", "square", "M-0.85,-0.85L0.85,0.85M0.85,-0.85L-0.85,0.85"]},
        "legend": {"orient": "none", "legendX": 17, "legendY": -115, "columns": 2, "title": null, "labelColor": {"expr": "datum.value === 'Baseline' ? '#ff0000' : datum.value === 'w/o local refinement' ? '#0000ff' : datum.value === 'w/o edge filtering' ? '#000000' : '#20c020'"}}}
      }}
    ]},
   {"data": {"name": "p8"}, "width": 228, "height": 228, "title": "n = 200, p = 20%, σ = 10 deg",
    "encoding": {
     "x": {"field": "ratio", "type": "quantitative", "scale": {"domain": [0, 0.5], "nice": false, "zero": false}, "axis": {"values": [0, 0.1, 0.2, 0.3, 0.4, 0.5], "format": ".1~f", "title": "Outlier ratio"}},
     "y": {"field": "error", "type": "quantitative", "scale": {"domain": [0, 8], "nice": false}, "axis": {"values": [0, 1, 2, 3, 4, 5, 6, 7, 8], "format": ".1~f", "title": "Mean error (deg)", "minExtent": 31, "maxExtent": 31}}
    },
    "layer": [
     {"mark": {"type": "line", "strokeWidth": 1.4}, "encoding": {"stroke": {"field": "method", "type": "nominal", "scale": {"domain": ["Baseline", "w/o edge filtering", "w/o local refinement", "w/o triplet-based propagation"], "range": ["#ff0000", "#000000", "#0000ff", "#20c020"]}, "legend": null}}},
     {"mark": {"type": "point", "filled": false, "size": 160, "strokeWidth": 1.4, "opacity": 1},
      "encoding": {
       "color": {"field": "method", "type": "nominal", "scale": {"domain": ["Baseline", "w/o edge filtering", "w/o local refinement", "w/o triplet-based propagation"], "range": ["#ff0000", "#000000", "#0000ff", "#20c020"]},
        "legend": {"orient": "none", "legendX": 17, "legendY": -115, "columns": 2, "title": null, "labelColor": {"expr": "datum.value === 'Baseline' ? '#ff0000' : datum.value === 'w/o local refinement' ? '#0000ff' : datum.value === 'w/o edge filtering' ? '#000000' : '#20c020'"}}},
       "shape": {"field": "method", "type": "nominal", "scale": {"domain": ["Baseline", "w/o edge filtering", "w/o local refinement", "w/o triplet-based propagation"], "range": ["M-1,0H1M0,-1V1", "circle", "square", "M-0.85,-0.85L0.85,0.85M0.85,-0.85L-0.85,0.85"]},
        "legend": {"orient": "none", "legendX": 17, "legendY": -115, "columns": 2, "title": null, "labelColor": {"expr": "datum.value === 'Baseline' ? '#ff0000' : datum.value === 'w/o local refinement' ? '#0000ff' : datum.value === 'w/o edge filtering' ? '#000000' : '#20c020'"}}}
      }}
    ]}
  ]}
 ]
}
]
}
